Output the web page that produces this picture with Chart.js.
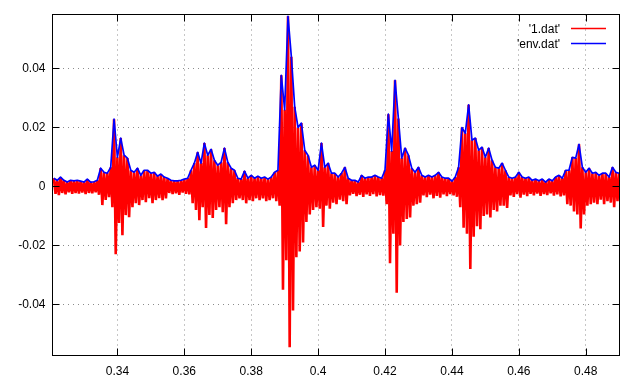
<!DOCTYPE html>
<html><head><meta charset="utf-8">
<script src="https://cdn.jsdelivr.net/npm/chart.js@4"></script>
<style>html,body{margin:0;padding:0;background:#fff}</style>
</head><body>
<canvas id="c" width="640" height="387"></canvas>
<script>
// sample times (s)
const times = [
0.321,0.322,0.323,0.324,0.325,0.326,0.327,0.328,0.329,0.330,
0.331,0.332,0.333,0.334,0.335,0.336,0.337,0.338,0.339,0.340,
0.341,0.342,0.343,0.344,0.345,0.346,0.347,0.348,0.349,0.350,
0.351,0.352,0.353,0.354,0.355,0.356,0.357,0.358,0.359,0.360,
0.361,0.362,0.363,0.364,0.365,0.366,0.367,0.368,0.369,0.370,
0.371,0.372,0.373,0.374,0.375,0.376,0.377,0.378,0.379,0.380,
0.381,0.382,0.383,0.384,0.385,0.386,0.387,0.388,0.389,0.390,
0.391,0.392,0.393,0.394,0.395,0.396,0.397,0.398,0.399,0.400,
0.401,0.402,0.403,0.404,0.405,0.406,0.407,0.408,0.409,0.410,
0.411,0.412,0.413,0.414,0.415,0.416,0.417,0.418,0.419,0.420,
0.421,0.422,0.423,0.424,0.425,0.426,0.427,0.428,0.429,0.430,
0.431,0.432,0.433,0.434,0.435,0.436,0.437,0.438,0.439,0.440,
0.441,0.442,0.443,0.444,0.445,0.446,0.447,0.448,0.449,0.450,
0.451,0.452,0.453,0.454,0.455,0.456,0.457,0.458,0.459,0.460,
0.461,0.462,0.463,0.464,0.465,0.466,0.467,0.468,0.469,0.470,
0.471,0.472,0.473,0.474,0.475,0.476,0.477,0.478,0.479,0.480,
0.481,0.482,0.483,0.484,0.485,0.486,0.487,0.488,0.489,0.490];

// env.dat : upper envelope (also the positive peaks of 1.dat)
const env = [
0.0028,0.0021,0.0032,0.0021,0.0015,0.0021,0.0019,0.0021,0.0018,0.0015,
0.0025,0.0015,0.0016,0.0021,0.0062,0.0048,0.0045,0.0065,0.0228,0.0099,
0.0164,0.0106,0.0096,0.0055,0.0048,0.0062,0.0038,0.0055,0.0055,0.0045,
0.0048,0.0035,0.0042,0.0032,0.0028,0.0021,0.0019,0.0019,0.0021,0.0025,
0.0028,0.0055,0.0079,0.0116,0.0079,0.0147,0.0106,0.0126,0.0089,0.0072,
0.0082,0.0130,0.0082,0.0062,0.0055,0.0028,0.0025,0.0052,0.0028,0.0038,
0.0028,0.0035,0.0028,0.0032,0.0025,0.0032,0.0048,0.0055,0.0377,0.0260,
0.0577,0.0440,0.0270,0.0200,0.0215,0.0123,0.0105,0.0065,0.0072,0.0055,
0.0147,0.0065,0.0079,0.0045,0.0045,0.0032,0.0045,0.0065,0.0028,0.0021,
0.0021,0.0015,0.0038,0.0028,0.0032,0.0032,0.0038,0.0032,0.0028,0.0055,
0.0245,0.0120,0.0360,0.0230,0.0096,0.0130,0.0106,0.0062,0.0048,0.0065,
0.0038,0.0032,0.0038,0.0032,0.0038,0.0048,0.0032,0.0028,0.0028,0.0018,
0.0032,0.0065,0.0200,0.0180,0.0277,0.0157,0.0164,0.0123,0.0133,0.0099,
0.0130,0.0089,0.0065,0.0062,0.0079,0.0055,0.0032,0.0028,0.0032,0.0048,
0.0032,0.0028,0.0032,0.0021,0.0025,0.0019,0.0025,0.0015,0.0025,0.0019,
0.0032,0.0038,0.0028,0.0055,0.0055,0.0099,0.0096,0.0143,0.0065,0.0048,
0.0062,0.0045,0.0048,0.0038,0.0045,0.0045,0.0032,0.0065,0.0048,0.0045];

// 1.dat : negative peaks
const sigLow = [
-0.0025,-0.0029,-0.0022,-0.0027,-0.0020,-0.0025,-0.0022,-0.0024,-0.0021,-0.0026,
-0.0022,-0.0023,-0.0020,-0.0028,-0.0063,-0.0046,-0.0036,-0.0070,-0.0230,-0.0124,
-0.0165,-0.0097,-0.0104,-0.0070,-0.0057,-0.0063,-0.0046,-0.0053,-0.0040,-0.0057,
-0.0046,-0.0040,-0.0046,-0.0040,-0.0022,-0.0026,-0.0023,-0.0028,-0.0021,-0.0025,
-0.0027,-0.0057,-0.0080,-0.0114,-0.0070,-0.0141,-0.0097,-0.0107,-0.0080,-0.0070,
-0.0087,-0.0128,-0.0070,-0.0057,-0.0046,-0.0040,-0.0046,-0.0057,-0.0046,-0.0050,
-0.0040,-0.0046,-0.0040,-0.0050,-0.0046,-0.0040,-0.0050,-0.0065,-0.0350,-0.0250,
-0.0545,-0.0420,-0.0240,-0.0220,-0.0190,-0.0120,-0.0095,-0.0080,-0.0070,-0.0075,
-0.0137,-0.0065,-0.0075,-0.0055,-0.0060,-0.0045,-0.0050,-0.0060,-0.0030,-0.0025,
-0.0033,-0.0028,-0.0035,-0.0027,-0.0032,-0.0026,-0.0034,-0.0029,-0.0031,-0.0060,
-0.0260,-0.0160,-0.0360,-0.0200,-0.0120,-0.0110,-0.0105,-0.0065,-0.0060,-0.0055,
-0.0030,-0.0036,-0.0028,-0.0040,-0.0032,-0.0038,-0.0027,-0.0033,-0.0026,-0.0030,
-0.0035,-0.0070,-0.0140,-0.0160,-0.0280,-0.0170,-0.0135,-0.0145,-0.0100,-0.0095,
-0.0105,-0.0080,-0.0085,-0.0065,-0.0065,-0.0073,-0.0030,-0.0035,-0.0026,-0.0038,
-0.0028,-0.0033,-0.0025,-0.0030,-0.0024,-0.0032,-0.0026,-0.0029,-0.0023,-0.0031,
-0.0027,-0.0034,-0.0030,-0.0060,-0.0065,-0.0085,-0.0095,-0.0142,-0.0095,-0.0065,
-0.0060,-0.0055,-0.0060,-0.0045,-0.0060,-0.0050,-0.0055,-0.0070,-0.0050,-0.0060];

const xTicks = [0.34,0.36,0.38,0.40,0.42,0.44,0.46,0.48];
const xTickLabels = ['0.34','0.36','0.38','0.4','0.42','0.44','0.46','0.48'];
const yTicks = [-0.04,-0.02,0,0.02,0.04];
const yTickLabels = ['-0.04','-0.02','0','0.02','0.04'];
const seriesNames = ["'1.dat'", "'env.dat'"];
const seriesColors = ['#ff0000', '#0000ff'];
const xRange = [0.3206, 0.4901];
const yRange = [-0.0573, 0.0583];

// build point lists: signal alternates positive / negative peaks
const halfStep = (times[1] - times[0]) / 2;
const sigPts = [];
times.forEach((t, i) => {
  sigPts.push({x: t, y: env[i]});
  sigPts.push({x: t + halfStep, y: sigLow[i]});
});
const envPts = times.map((t, i) => ({x: t, y: env[i]}));

const FONT = {family: 'Liberation Sans, Arial, sans-serif', size: 12};

const framePlugin = {
  id: 'frame',
  afterDraw(chart) {
    const {ctx, chartArea: a, scales: {x, y}} = chart;
    ctx.save();
    ctx.strokeStyle = '#000';
    ctx.lineWidth = 1;
    ctx.strokeRect(a.left, a.top, a.right - a.left, a.bottom - a.top);
    const L = 7;
    ctx.beginPath();
    xTicks.forEach(v => {
      const px = Math.round(x.getPixelForValue(v)) + 0.5;
      ctx.moveTo(px, a.bottom); ctx.lineTo(px, a.bottom - L);
      ctx.moveTo(px, a.top); ctx.lineTo(px, a.top + L);
    });
    yTicks.forEach(v => {
      const py = Math.round(y.getPixelForValue(v)) + 0.5;
      ctx.moveTo(a.left, py); ctx.lineTo(a.left + L, py);
      ctx.moveTo(a.right, py); ctx.lineTo(a.right - L, py);
    });
    ctx.stroke();
    // legend
    ctx.font = FONT.size + 'px ' + FONT.family;
    ctx.textAlign = 'right';
    ctx.textBaseline = 'middle';
    chart.data.datasets.forEach((ds, i) => {
      const yy = 29.5 + i * 15;
      ctx.fillStyle = '#000';
      ctx.fillText(ds.label, 560, yy);
      ctx.strokeStyle = ds.borderColor;
      ctx.lineWidth = 1.3;
      ctx.beginPath();
      ctx.moveTo(571, yy - 1); ctx.lineTo(606, yy - 1);
      ctx.stroke();
    });
    ctx.restore();
  }
};

new Chart(document.getElementById('c'), {
  type: 'scatter',
  data: {
    datasets: [
      {label: seriesNames[0], data: sigPts, showLine: true, borderColor: seriesColors[0], order: 2,
       borderWidth: 2.6, borderJoinStyle: 'bevel', pointRadius: 0, tension: 0, fill: false},
      {label: seriesNames[1], data: envPts, showLine: true, borderColor: seriesColors[1], order: 1,
       borderWidth: 1.7, borderJoinStyle: 'round', pointRadius: 0, tension: 0, fill: false}
    ]
  },
  options: {
    responsive: false,
    animation: false,
    devicePixelRatio: 1,
    layout: {padding: {top: 14.5, right: 20.5, left: 0, bottom: 0}},
    plugins: {legend: {display: false}, tooltip: {enabled: false}},
    scales: {
      x: {
        type: 'linear', min: xRange[0], max: xRange[1],
        afterBuildTicks: s => { s.ticks = xTicks.map(v => ({value: v})); },
        afterFit: s => { s.height = 31.5; },
        grid: {color: '#8c8c8c', lineWidth: 1, drawTicks: false},
        border: {display: false, dash: [1, 4]},
        ticks: {font: FONT, color: '#000', padding: 9, maxRotation: 0, autoSkip: false,
                callback: v => xTickLabels[xTicks.indexOf(v)]}
      },
      y: {
        type: 'linear', min: yRange[0], max: yRange[1],
        afterBuildTicks: s => { s.ticks = yTicks.map(v => ({value: v})); },
        afterFit: s => { s.width = 52.5; },
        grid: {color: '#8c8c8c', lineWidth: 1, drawTicks: false},
        border: {display: false, dash: [1, 4]},
        ticks: {font: FONT, color: '#000', padding: 7, autoSkip: false,
                callback: v => yTickLabels[yTicks.indexOf(v)]}
      }
    }
  },
  plugins: [framePlugin]
});
</script>
</body></html>
